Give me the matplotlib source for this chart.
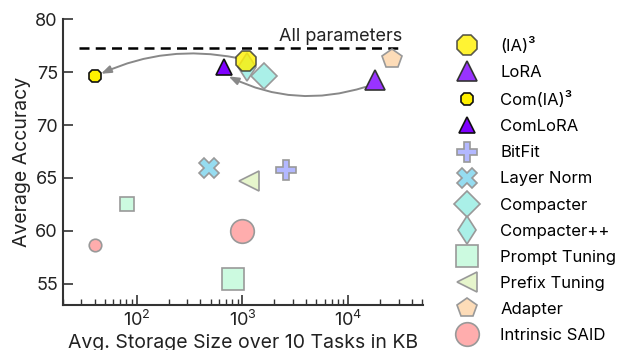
import matplotlib
matplotlib.use('Agg')
import matplotlib.pyplot as plt

plt.rcParams['font.family'] = ['Inter', 'DejaVu Sans']

# methods shown in legend (one point each)
methods = ['(IA)³', 'LoRA', 'Com(IA)³', 'ComLoRA', 'BitFit', 'Layer Norm', 'Compacter',
           'Compacter++', 'Prompt Tuning', 'Prefix Tuning', 'Adapter', 'Intrinsic SAID']
storage_kb = [1070, 17800, 40, 670, 2570, 484, 1580, 1100, 810, 1165, 25600, 1000]
accuracy = [76.1, 74.3, 74.65, 75.45, 65.75, 65.9, 74.6, 75.5, 55.5, 64.7, 76.2, 60.0]

# extra smaller points without legend entry
extra_methods = ['Prompt Tuning', 'Intrinsic SAID']
extra_storage_kb = [81, 40]
extra_accuracy = [62.5, 58.7]

all_params_acc = 77.3

style = {
    '(IA)³': dict(marker='8', ms=15, mfc='#fff000', mec='#333333', alpha=0.8, z=5),
    'LoRA': dict(marker='^', ms=14.5, mfc='#9933ff', mec='#333333', alpha=1, z=4),
    'Com(IA)³': dict(marker='8', ms=10, mfc='#fff000', mec='#111111', alpha=1, z=4),
    'ComLoRA': dict(marker='^', ms=11, mfc='#7f00ff', mec='#111111', alpha=1, z=4),
    'BitFit': dict(marker='P', ms=14, mfc='#b3b8ff', mec='#999999', alpha=1, z=3),
    'Layer Norm': dict(marker='X', ms=14, mfc='#96dcf0', mec='#999999', alpha=1, z=3),
    'Compacter': dict(marker='D', ms=13, mfc='#aaf0e8', mec='#999999', alpha=1, z=3),
    'Compacter++': dict(marker='d', ms=14.5, mfc='#aaf0e8', mec='#999999', alpha=1, z=3),
    'Prompt Tuning': dict(marker='s', ms=16.5, mfc='#ccfae0', mec='#999999', alpha=1, z=3),
    'Prefix Tuning': dict(marker='<', ms=15, mfc='#e6f5cc', mec='#999999', alpha=1, z=3),
    'Adapter': dict(marker='p', ms=15, mfc='#fddcb8', mec='#999999', alpha=1, z=3),
    'Intrinsic SAID': dict(marker='o', ms=17, mfc='#ffadad', mec='#999999', alpha=1, z=3),
}
extra_ms = {'Prompt Tuning': 9.5, 'Intrinsic SAID': 9}

fig = plt.figure(figsize=(6.3, 3.5), dpi=100)
ax = fig.add_axes([0.0995, 0.1286, 0.5715, 0.8164])

for m, x, y in zip(methods, storage_kb, accuracy):
    s = style[m]
    ax.plot(x, y, ls='none', marker=s['marker'], ms=s['ms'], mfc=s['mfc'], mec=s['mec'],
            mew=1.2, alpha=s['alpha'], zorder=s['z'], label=m)
for m, x, y in zip(extra_methods, extra_storage_kb, extra_accuracy):
    s = style[m]
    ax.plot(x, y, ls='none', marker=s['marker'], ms=extra_ms[m], mfc=s['mfc'], mec=s['mec'],
            mew=1.2, alpha=s['alpha'], zorder=s['z'])

ax.plot([28.6, 33000], [all_params_acc, all_params_acc], ls=(0, (4, 2.5)), color='black', lw=1.8, zorder=2)
ax.text(32000, all_params_acc + 0.3, 'All parameters', ha='right', va='bottom', fontsize=13, color='#222222')

# arrows: full -> compressed
arr = dict(arrowstyle='-|>,head_length=0.6,head_width=0.22', color='#888888', lw=1.4,
           shrinkA=0, shrinkB=0)
ax.annotate('', xy=(46, 74.85), xytext=(880, 76.35),
            arrowprops=dict(arr, connectionstyle='arc3,rad=0.16'), zorder=1)
ax.annotate('', xy=(740, 74.6), xytext=(14500, 73.6),
            arrowprops=dict(arr, connectionstyle='arc3,rad=-0.2'), zorder=1)

ax.set_xscale('log')
ax.set_xlim(20, 50500)
ax.set_ylim(53, 80)
ax.set_yticks([55, 60, 65, 70, 75, 80])
for sp in ['top', 'right']:
    ax.spines[sp].set_visible(False)
for sp in ['left', 'bottom']:
    ax.spines[sp].set_linewidth(1.5)
    ax.spines[sp].set_color('#333333')
ax.tick_params(direction='in', which='major', length=7, width=1.2, labelsize=13, colors='#333333', labelcolor='#222222')
ax.tick_params(direction='in', which='minor', length=4, width=1.0, colors='#333333')
ax.set_xlabel('Avg. Storage Size over 10 Tasks in KB', fontsize=14, color='#222222', labelpad=3)
ax.set_ylabel('Average Accuracy', fontsize=14, color='#222222', labelpad=3)

fig.legend(loc='upper left', bbox_to_anchor=(0.708, 0.918), frameon=False, fontsize=12,
           labelspacing=0.665, handlelength=1.5, handletextpad=1.26, borderpad=0, numpoints=1)

fig.savefig('out.png', dpi=100)
